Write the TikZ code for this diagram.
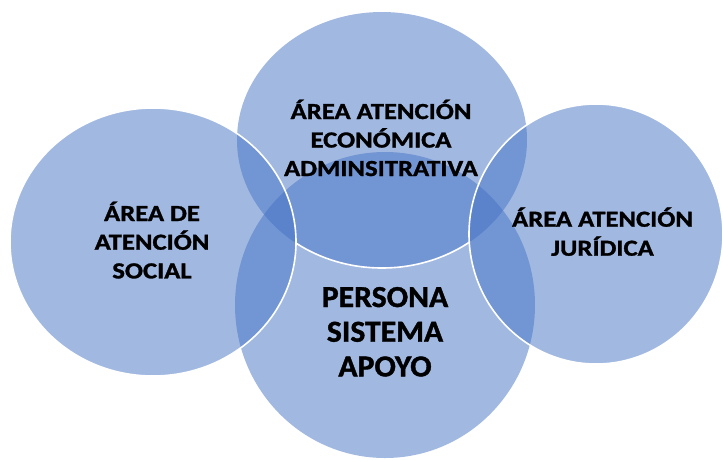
\documentclass[tikz,border=0pt]{standalone}
\usepackage{fontspec}
\setmainfont{Carlito}[BoldFeatures={FakeBold=1.2}]
\usetikzlibrary{shapes.geometric}
\definecolor{venn}{HTML}{4472C4}
\tikzset{
  vfill/.style={fill=venn, fill opacity=0.5},
  vline/.style={draw=white, line width=1.6pt},
  lbl/.style={anchor=base, inner sep=0pt, text=black, font=\bfseries},
}
\newcommand{\lines}[4]{\scalebox{#1}[1]{\fontsize{#2}{#3}\selectfont\begin{tabular}[t]{@{}c@{}}#4\end{tabular}}}
\begin{document}
\begin{tikzpicture}[x=1pt,y=-1pt]
\useasboundingbox (0,0) rectangle (723,459);
% circles
\fill[vfill] (385,305) ellipse [x radius=150, y radius=153];
\fill[vfill] (382,140) ellipse [x radius=145, y radius=128];
\begin{scope}
  \clip (296,200) rectangle (469.5,300);
  \draw[vline] (382,140) ellipse [x radius=145, y radius=128];
\end{scope}
\path[vfill, vline] (596,234) ellipse [x radius=127, y radius=130];
\path[vfill, vline] (153,242) ellipse [x radius=143, y radius=134];
% labels
\node[lbl] (eco) at (381,119) {\lines{1.16}{23}{28.5}{ÁREA ATENCIÓN\\ECONÓMICA\\ADMINSITRATIVA}};
\node[lbl] (soc) at (152,221) {\lines{1.16}{23}{28.7}{ÁREA DE\\ATENCIÓN\\SOCIAL}};
\node[lbl] (jur) at (602.5,226.7) {\lines{1.16}{23}{29}{ÁREA ATENCIÓN\\JURÍDICA}};
\node[lbl] (per) at (385,307) {\lines{1.04}{30.5}{34.7}{PERSONA\\SISTEMA\\APOYO}};
\end{tikzpicture}
\end{document}
